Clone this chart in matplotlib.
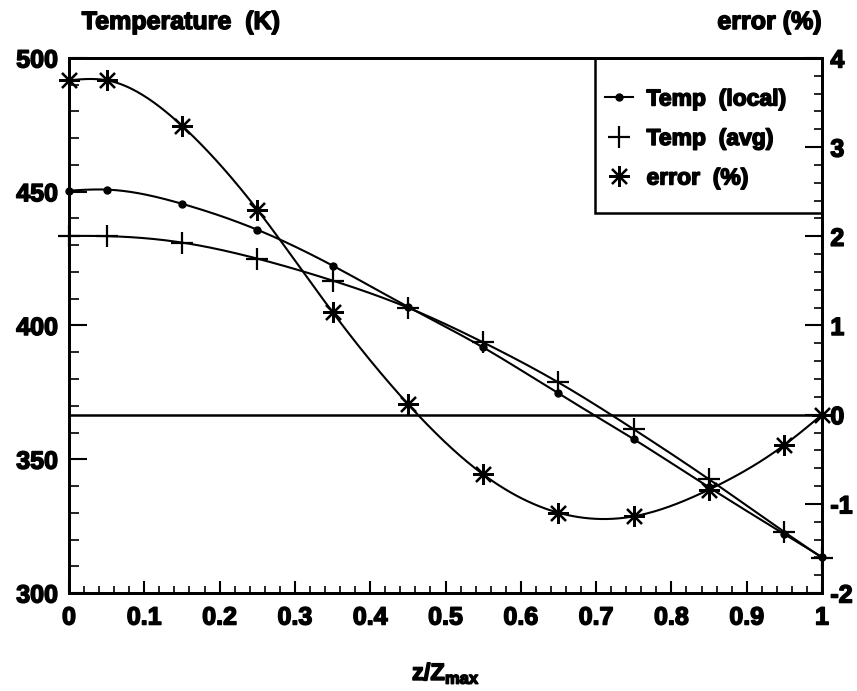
import numpy as np
import matplotlib
matplotlib.use("Agg")
import matplotlib.pyplot as plt
import matplotlib.patheffects as pe
from matplotlib.lines import Line2D
from matplotlib.patches import Rectangle
from matplotlib.ticker import MultipleLocator, FuncFormatter

plt.rcParams['font.family'] = ['Liberation Sans', 'DejaVu Sans']
plt.rcParams['font.weight'] = 'bold'
plt.rcParams['axes.unicode_minus'] = False
plt.rcParams['mathtext.fontset'] = 'custom'
plt.rcParams['mathtext.bf'] = 'Liberation Sans:bold'
plt.rcParams['mathtext.rm'] = 'Liberation Sans:bold'

# normalised axial position
z_pos = [0.0, 0.05, 0.15, 0.25, 0.35, 0.45, 0.55, 0.65, 0.75, 0.85, 0.95, 1.0]
# local temperature (K)
temp_local = [450.4, 450.8, 445.5, 435.8, 422.4, 407.0, 391.8, 374.6, 357.5, 339.5, 322.0, 313.4]
# averaged temperature (K)
temp_avg = [433.5, 433.4, 431.0, 425.0, 416.8, 406.7, 393.7, 378.7, 361.2, 342.5, 322.8, 313.2]
# relative error (%)
error_pct = [3.75, 3.75, 3.24, 2.30, 1.15, 0.12, -0.67, -1.10, -1.14, -0.84, -0.34, 0.0]

x_ticks = [0.0, 0.1, 0.2, 0.3, 0.4, 0.5, 0.6, 0.7, 0.8, 0.9, 1.0]
temp_ticks = [300, 350, 400, 450, 500]
err_ticks = [-2, -1, 0, 1, 2, 3, 4]

heavy = [pe.withStroke(linewidth=1.1, foreground='black')]


def natural_spline(x, y, xs):
    x = np.asarray(x, float)
    y = np.asarray(y, float)
    n = len(x)
    h = np.diff(x)
    A = np.zeros((n, n))
    r = np.zeros(n)
    A[0, 0] = A[-1, -1] = 1.0
    for i in range(1, n - 1):
        A[i, i - 1] = h[i - 1]
        A[i, i] = 2 * (h[i - 1] + h[i])
        A[i, i + 1] = h[i]
        r[i] = 3 * ((y[i + 1] - y[i]) / h[i] - (y[i] - y[i - 1]) / h[i - 1])
    c = np.linalg.solve(A, r)
    b = (y[1:] - y[:-1]) / h - h * (2 * c[:-1] + c[1:]) / 3
    d = (c[1:] - c[:-1]) / (3 * h)
    idx = np.clip(np.searchsorted(x, xs) - 1, 0, n - 2)
    dx = xs - x[idx]
    return y[idx] + b[idx] * dx + c[idx] * dx ** 2 + d[idx] * dx ** 3


fig = plt.figure(figsize=(8.57, 6.91), dpi=100)
ax = fig.add_axes([0.0805, 0.1418, 0.8787, 0.7743])
ax2 = ax.twinx()

xs = np.linspace(0, 1, 400)
lw = 1.5
star = (8, 2, 0)

ax.plot(xs, natural_spline(z_pos, temp_local, xs), color='black', lw=lw)
ax.plot(z_pos, temp_local, ls='none', marker='o', ms=5, color='black', clip_on=False)
ax.plot(xs, natural_spline(z_pos, temp_avg, xs), color='black', lw=lw)
ax.plot(z_pos, temp_avg, ls='none', marker='+', ms=16, mew=1.6, color='black', clip_on=False)

ax2.axhline(0, color='black', lw=1.8)
ax2.plot(xs, natural_spline(z_pos, error_pct, xs), color='black', lw=lw)
ax2.plot(z_pos, error_pct, ls='none', marker=star, ms=15, mew=1.6, color='black',
         clip_on=False)

ax.set_xlim(0, 1)
ax.set_ylim(300, 500)
ax2.set_ylim(-2, 4)

for a in (ax, ax2):
    for s in a.spines.values():
        s.set_linewidth(2)

ax.set_xticks(x_ticks)
ax.xaxis.set_minor_locator(MultipleLocator(0.02))
ax.xaxis.set_major_formatter(FuncFormatter(lambda v, p: f"{v:g}"))
ax.set_yticks(temp_ticks)
ax.yaxis.set_minor_locator(MultipleLocator(10))
ax2.set_yticks(err_ticks)
ax2.yaxis.set_minor_locator(MultipleLocator(0.2))

ax.tick_params(axis='x', which='major', direction='in', length=8.5, width=1.5,
               labelsize=18, pad=9, top=False)
ax.tick_params(axis='x', which='minor', direction='in', length=5, width=1.2, top=False)
ax.tick_params(axis='y', which='major', direction='in', length=13, width=1.5,
               labelsize=18, pad=8, right=False)
ax.tick_params(axis='y', which='minor', direction='in', length=7, width=1.2, right=False)
ax2.tick_params(axis='y', which='major', direction='in', length=12, width=1.5,
                labelsize=18, pad=6)
ax2.tick_params(axis='y', which='minor', direction='in', length=6, width=1.2)
for lab in ax.get_xticklabels() + ax.get_yticklabels() + ax2.get_yticklabels():
    lab.set_fontweight('bold')
    lab.set_path_effects(heavy)

fig.text(181 / 857, 1 - 22 / 691, 'Temperature  (K)', ha='center', va='center',
         fontsize=18, fontweight='bold', path_effects=heavy)
fig.text(822 / 857, 1 - 22 / 691, 'error (%)', ha='right', va='center',
         fontsize=18, fontweight='bold', path_effects=heavy)
fig.text(446 / 857, 1 - 673 / 691, r'$\mathbf{z/Z_{max}}$', ha='center', va='center',
         fontsize=17, path_effects=heavy)

# legend box
ax.add_patch(Rectangle((0.6985, 0.710), 0.3015, 0.290, transform=ax.transAxes,
                       fill=False, edgecolor='black', lw=1.8, zorder=5))
handles = [
    Line2D([], [], color='black', lw=lw, marker='o', ms=5),
    Line2D([], [], color='black', ls='none', marker='+', ms=16, mew=1.6),
    Line2D([], [], color='black', ls='none', marker=star, ms=15, mew=1.6),
]
labels = ['Temp  (local)', 'Temp  (avg)', 'error  (%)']
leg = ax2.legend(handles, labels, loc='upper left', bbox_to_anchor=(0.7, 0.962),
                 frameon=False, fontsize=16.5, handlelength=1.2, handletextpad=0.6,
                 labelspacing=0.72, borderaxespad=0)
for t in leg.get_texts():
    t.set_fontweight('bold')
    t.set_path_effects(heavy)

fig.savefig('out.png', dpi=100)
